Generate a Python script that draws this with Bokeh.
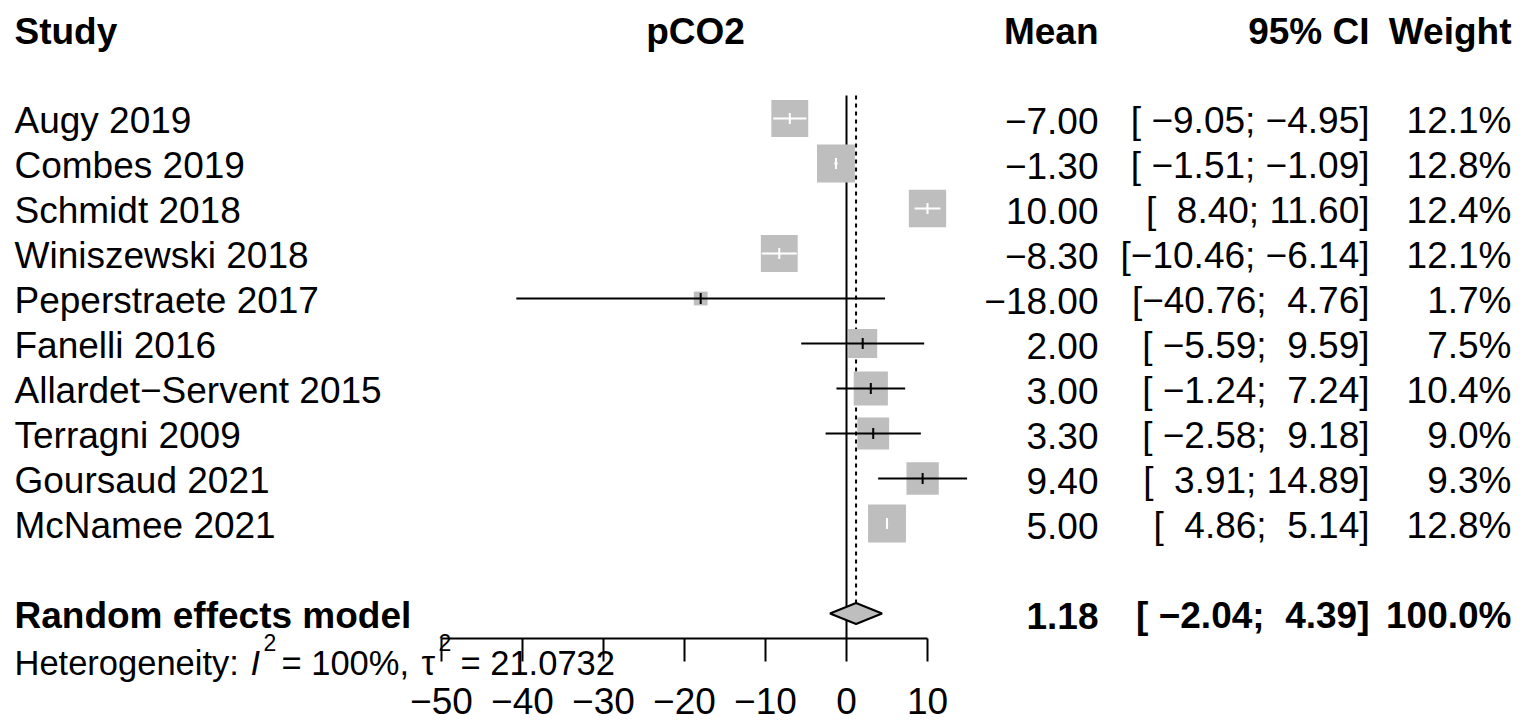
import math
from bokeh.plotting import figure
from bokeh.models import Range1d, ColumnDataSource
from bokeh.core.properties import value
from bokeh.embed import file_html
from bokeh.resources import INLINE

# ---------------- data ----------------
studies = ["Augy 2019", "Combes 2019", "Schmidt 2018", "Winiszewski 2018",
           "Peperstraete 2017", "Fanelli 2016", "Allardet\u2212Servent 2015",
           "Terragni 2009", "Goursaud 2021", "McNamee 2021"]
means = [-7.00, -1.30, 10.00, -8.30, -18.00, 2.00, 3.00, 3.30, 9.40, 5.00]
ci_lower = [-9.05, -1.51, 8.40, -10.46, -40.76, -5.59, -1.24, -2.58, 3.91, 4.86]
ci_upper = [-4.95, -1.09, 11.60, -6.14, 4.76, 9.59, 7.24, 9.18, 14.89, 5.14]
weights = [12.1, 12.8, 12.4, 12.1, 1.7, 7.5, 10.4, 9.0, 9.3, 12.8]

pooled_label = "Random effects model"
pooled_mean = 1.18
pooled_lower = -2.04
pooled_upper = 4.39
pooled_weight = 100.0
i2_text = "100%"
tau2_text = "21.0732"

tick_values = [-50, -40, -30, -20, -10, 0, 10]
tick_labels = ["\u221250", "\u221240", "\u221230", "\u221220", "\u221210", "0", "10"]

headers = ["Study", "pCO2", "Mean", "95% CI", "Weight"]

# ---------------- layout ----------------
W, H = 1526, 724
PX0 = 846.0      # px of effect 0
PPU = 8.1        # px per effect unit
ROW0 = 118.0     # px of first row
ROWH = 45.0      # px per row
FONT = value("Liberation Sans")
NB = "\u00a0"

def rows_of(px):
    return (px - ROW0) / ROWH

p = figure(width=W, height=H, output_backend="svg", toolbar_location=None,
           x_axis_type=None, y_axis_type=None, min_border=0,
           x_range=Range1d(-PX0 / PPU, (W - PX0) / PPU),
           y_range=Range1d(start=(H - ROW0) / ROWH, end=-ROW0 / ROWH))
p.extra_x_ranges = {"page": Range1d(0, W)}
p.outline_line_color = None
p.background_fill_color = "white"
p.border_fill_color = "white"
p.grid.visible = False

n = len(studies)
rows = list(range(n))
pooled_row = 11.0
axis_y = rows_of(638)
tick_bot = rows_of(661)
tick_lab_y = rows_of(700)
top_y = rows_of(95)
header_y = rows_of(31)
het_y = rows_of(662)
sup_y = rows_of(642)
text_dy = 2.0 / ROWH

# reference lines
p.segment(x0=[0], y0=[top_y], x1=[0], y1=[axis_y], line_color="black", line_width=2)
diamond_h = 10.5 / ROWH
p.segment(x0=[pooled_mean], y0=[top_y], x1=[pooled_mean], y1=[pooled_row - diamond_h],
          line_color="black", line_width=2, line_dash="4 4")

# boxes
sizes = [10.6 * math.sqrt(w) for w in weights]
p.scatter(x=means, y=rows, marker="square", size=sizes,
          fill_color="#bebebe", line_color=None)

# CI lines (white when inside box)
cols = []
for m, lo, hi, s in zip(means, ci_lower, ci_upper, sizes):
    half = s / 2 / PPU
    cols.append("white" if (lo >= m - half and hi <= m + half) else "black")
tick_h = 5.5 / ROWH
src = ColumnDataSource(dict(lo=ci_lower, hi=ci_upper, m=means, y=rows,
                            y0=[r - tick_h for r in rows], y1=[r + tick_h for r in rows],
                            c=cols))
p.segment(x0="lo", y0="y", x1="hi", y1="y", line_color="c", line_width=2, source=src)
p.segment(x0="m", y0="y0", x1="m", y1="y1", line_color="c", line_width=2, source=src)

# diamond
p.patch(x=[pooled_lower, pooled_mean, pooled_upper, pooled_mean],
        y=[pooled_row, pooled_row - diamond_h, pooled_row, pooled_row + diamond_h],
        fill_color="#bebebe", line_color="black", line_width=2)

# x axis
p.segment(x0=[tick_values[0]], y0=[axis_y], x1=[tick_values[-1]], y1=[axis_y],
          line_color="black", line_width=2)
p.segment(x0=tick_values, y0=[axis_y] * len(tick_values), x1=tick_values,
          y1=[tick_bot] * len(tick_values), line_color="black", line_width=2)
p.text(x=tick_values, y=[tick_lab_y] * len(tick_values), text=tick_labels,
       text_font=FONT, text_font_size="37px", text_align="center",
       text_baseline="middle", text_color="black")

# ---------------- text columns ----------------
def f2(v):
    return f"{v:.2f}".replace("-", "\u2212")

lo_s = [f2(v) for v in ci_lower + [pooled_lower]]
hi_s = [f2(v) for v in ci_upper + [pooled_upper]]
wl = max(len(s) for s in lo_s)
wh = max(len(s) for s in hi_s)
ci_s = ["[" + NB * (wl - len(a)) + a + ";" + NB + NB * (wh - len(b)) + b + "]"
        for a, b in zip(lo_s, hi_s)]
mean_s = [f2(v) for v in means + [pooled_mean]]
w_s = [f"{v:.1f}%" for v in weights + [pooled_weight]]

X_NAME, X_MEAN, X_CI, X_W, X_HEAD = 14, 1098, 1369, 1511, 695

def txt(x, y, t, align="left", bold=False, size="37px", italic=False):
    style = "bold" if bold else ("italic" if italic else "normal")
    p.text(x=x, y=y, text=t, x_range_name="page", text_font=FONT,
           text_font_size=size, text_align=align, text_baseline="middle",
           text_font_style=style, text_color="black")

# header
txt([X_NAME], [header_y], [headers[0]], "left", True)
txt([X_HEAD], [header_y], [headers[1]], "center", True)
txt([X_MEAN], [header_y], [headers[2]], "right", True)
txt([X_CI], [header_y], [headers[3]], "right", True)
txt([X_W], [header_y], [headers[4]], "right", True)

# study rows
ty = [r + text_dy for r in rows]
txt([X_NAME] * n, ty, studies, "left")
txt([X_MEAN] * n, ty, mean_s[:n], "right")
txt([X_CI] * n, ty, ci_s[:n], "right")
txt([X_W] * n, ty, w_s[:n], "right")

# pooled row
py = [pooled_row + text_dy]
txt([X_NAME], py, [pooled_label], "left", True)
txt([X_MEAN], py, [mean_s[n]], "right", True)
txt([X_CI], py, [ci_s[n]], "right", True)
txt([X_W], py, [w_s[n]], "right", True)

# heterogeneity
HS = "34.5px"
txt([X_NAME], [het_y], ["Heterogeneity:"], "left", size=HS)
txt([250], [het_y], ["I"], "left", size=HS, italic=True)
txt([263], [sup_y], ["2"], "left", size="23px")
txt([281], [het_y], ["= " + i2_text + ","], "left", size=HS)
txt([421], [het_y], ["\u03c4"], "left", size=HS)
txt([438], [sup_y], ["2"], "left", size="23px")
txt([460], [het_y], ["= " + tau2_text], "left", size=HS)

open("out.html", "w").write(file_html(p, INLINE))
